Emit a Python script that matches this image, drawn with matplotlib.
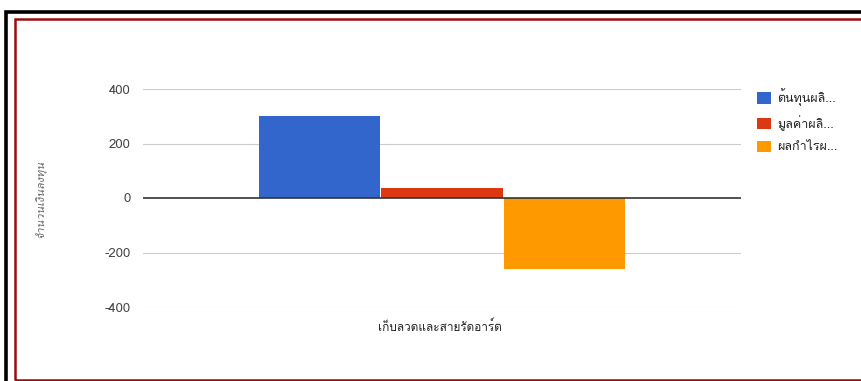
import matplotlib
matplotlib.use("Agg")
import matplotlib.pyplot as plt
from matplotlib import font_manager
from matplotlib.patches import Rectangle

# ---- data ----
category = "เก็บลวดและสายรัดอาร์ต"
series_names = ["ต้นทุนผลิ...", "มูลค่าผลิ...", "ผลกำไรผ..."]
series_values = [300, 35, -260]
series_colors = ["#3366cc", "#dc3912", "#ff9900"]
y_ticks = [-400, -200, 0, 200, 400]
y_label = "จำนวนเงินลงทุน"


def thai_families():
    """Return installed families that carry Thai glyphs."""
    found = []
    for entry in font_manager.fontManager.ttflist:
        if entry.name in found:
            continue
        try:
            cmap = font_manager.get_font(entry.fname).get_charmap()
        except Exception:
            continue
        if 0x0E01 in cmap:
            found.append(entry.name)
    return found


families = thai_families() + ["DejaVu Sans"]
plt.rcParams["font.family"] = families

W, H = 862, 381
fig = plt.figure(figsize=(W / 100, H / 100), dpi=100)
fig.patch.set_facecolor("white")


def px_box(left, top, right, bottom):
    return [left / W, 1 - bottom / H, (right - left) / W, (bottom - top) / H]


# frame borders
fig.patches.append(Rectangle((6.5 / W, -0.2), 1.2, 1 - 11.8 / H + 0.2,
                             transform=fig.transFigure, fill=False,
                             edgecolor="black", linewidth=2.6))
fig.patches.append(Rectangle((15 / W, 1 - 379.5 / H), 1.2, (379.5 - 19) / H,
                             transform=fig.transFigure, fill=False,
                             edgecolor="#9b0d0d", linewidth=1.8))

ax = fig.add_axes(px_box(143, 89, 741, 307))
ax.set_facecolor("none")

n = len(series_values)
bar_w = 0.205
offsets = [(i - (n - 1) / 2) * bar_w for i in range(n)]
for off, val, col, name in zip(offsets, series_values, series_colors, series_names):
    ax.bar(off, val, width=bar_w - 0.002, color=col, label=name, zorder=2)

ax.set_xlim(-0.5, 0.5)
ax.set_ylim(y_ticks[0], y_ticks[-1])
ax.set_yticks(y_ticks)
ax.set_yticklabels([str(t) for t in y_ticks])
for t in y_ticks:
    ax.axhline(t, color="#333333" if t == 0 else "#cccccc",
               linewidth=1.2 if t == 0 else 0.8, zorder=3 if t == 0 else 1)
ax.set_xticks([])
for s in ax.spines.values():
    s.set_visible(False)
ax.tick_params(axis="y", length=0, pad=9, labelsize=9.5, labelcolor="#444444")

fig.text(440 / W, 1 - 326 / H, category, ha="center", va="center",
         fontsize=8.5, color="#222222")
fig.text(41 / W, 1 - 199 / H, y_label, ha="center", va="center",
         rotation=90, fontsize=8, style="italic", color="#666666")

handles, labels = ax.get_legend_handles_labels()
fig.legend(handles, labels, loc="upper left",
           bbox_to_anchor=(746 / W, 1 - 77 / H), frameon=False,
           fontsize=9, handlelength=1.1, handleheight=1.0,
           handletextpad=0.5, labelspacing=0.75, labelcolor="#222222")

fig.savefig("out.png", dpi=100)
